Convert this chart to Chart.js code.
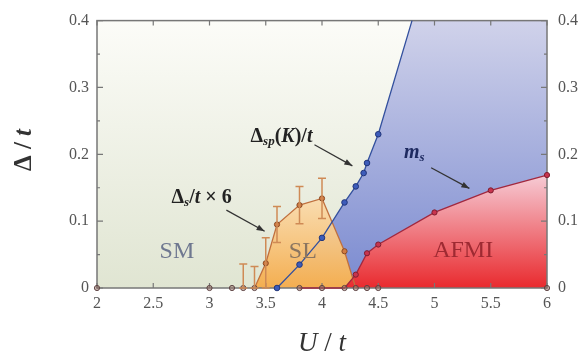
<!DOCTYPE html>
<html>
<head>
<meta charset="utf-8">
<script src="https://cdn.jsdelivr.net/npm/chart.js@4.4.0/dist/chart.umd.min.js"></script>
<style>
html,body{margin:0;padding:0;background:#fff}
#wrap{width:578px;height:355px}
</style>
</head>
<body>
<div id="wrap"><canvas id="c"></canvas></div>
<script>
// axis ticks
const xTicks = [2, 2.5, 3, 3.5, 4, 4.5, 5, 5.5, 6];
const yTicks = [0, 0.1, 0.2, 0.3, 0.4];
const yMinor = [0.05, 0.15, 0.25, 0.35];

// Delta_s / t x 6 (with error bars)
const dsU   = [2, 3, 3.2, 3.3, 3.4, 3.5, 3.6, 3.8, 4.0, 4.2, 4.3, 4.4, 4.5, 6];
const ds    = [0, 0, 0, 0, 0, 0.037, 0.095, 0.124, 0.134, 0.055, 0, 0, 0, 0];
const dsErr = [0, 0, 0, 0.036, 0.032, 0.038, 0.027, 0.028, 0.030, 0, 0, 0, 0, 0];

// Delta_sp(K) / t
const spU = [3.6, 3.8, 4.0, 4.2, 4.3, 4.37, 4.4, 4.5];
const sp  = [0, 0.035, 0.075, 0.128, 0.152, 0.172, 0.187, 0.23];
const spExitU = 4.8;   // where the line leaves the frame at the top
const spExit  = 0.4;

// m_s
const msU = [3.8, 4.0, 4.2, 4.3, 4.4, 4.5, 5, 5.5, 6];
const ms  = [0, 0, 0, 0.02, 0.052, 0.065, 0.113, 0.146, 0.169];

function pts(us, vs){ return us.map((u,i)=>({x:u, y:vs[i]})); }

function vgrad(chart, v0, v1, c0, c1){
  const a = chart.chartArea;
  if(!a) return c1;
  const y = chart.scales.y;
  const g = chart.ctx.createLinearGradient(0, y.getPixelForValue(v0), 0, y.getPixelForValue(v1));
  g.addColorStop(0, c0); g.addColorStop(1, c1);
  return g;
}

const SERIF = '"Liberation Serif", "DejaVu Serif", serif';

// draw a run of text parts, centred on x
function drawParts(ctx, parts, x, y){
  let w = 0;
  parts.forEach(p=>{ ctx.font = p.f; w += ctx.measureText(p.t).width; });
  let cx = x - w/2;
  parts.forEach(p=>{
    ctx.font = p.f;
    ctx.fillText(p.t, cx, y + (p.dy||0));
    cx += ctx.measureText(p.t).width;
  });
}

function arrow(ctx, x0, y0, x1, y1){
  ctx.save();
  ctx.strokeStyle = '#333'; ctx.fillStyle = '#333'; ctx.lineWidth = 1.2;
  ctx.beginPath(); ctx.moveTo(x0,y0); ctx.lineTo(x1,y1); ctx.stroke();
  const a = Math.atan2(y1-y0, x1-x0), L = 8, W = 3;
  ctx.beginPath();
  ctx.moveTo(x1, y1);
  ctx.lineTo(x1 - L*Math.cos(a) + W*Math.sin(a), y1 - L*Math.sin(a) - W*Math.cos(a));
  ctx.lineTo(x1 - L*Math.cos(a) - W*Math.sin(a), y1 - L*Math.sin(a) + W*Math.cos(a));
  ctx.closePath(); ctx.fill();
  ctx.restore();
}

// background of the SM phase
const bgPlugin = {
  id: 'bg',
  beforeDraw(chart){
    const {ctx, chartArea:a} = chart;
    const g = ctx.createLinearGradient(0, a.top, 0, a.bottom);
    g.addColorStop(0, 'rgb(252,252,248)');
    g.addColorStop(1, 'rgb(224,229,210)');
    ctx.save(); ctx.fillStyle = g;
    ctx.fillRect(a.left, a.top, a.right-a.left, a.bottom-a.top);
    ctx.restore();
  }
};

// frame and inward ticks
const framePlugin = {
  id: 'frame',
  beforeDatasetsDraw(chart){
    const {ctx, chartArea:a, scales} = chart;
    ctx.save();
    ctx.strokeStyle = '#777'; ctx.lineWidth = 1.5;
    ctx.strokeRect(a.left, a.top, a.right-a.left, a.bottom-a.top);
    ctx.lineWidth = 1.2;
    ctx.beginPath();
    xTicks.forEach(v=>{
      const px = scales.x.getPixelForValue(v);
      ctx.moveTo(px, a.bottom); ctx.lineTo(px, a.bottom-5);
      ctx.moveTo(px, a.top); ctx.lineTo(px, a.top+5);
    });
    yTicks.forEach(v=>{
      const py = scales.y.getPixelForValue(v);
      ctx.moveTo(a.left, py); ctx.lineTo(a.left+6, py);
      ctx.moveTo(a.right, py); ctx.lineTo(a.right-6, py);
    });
    yMinor.forEach(v=>{
      const py = scales.y.getPixelForValue(v);
      ctx.moveTo(a.left, py); ctx.lineTo(a.left+3, py);
      ctx.moveTo(a.right, py); ctx.lineTo(a.right-3, py);
    });
    ctx.stroke();
    ctx.restore();
  }
};

// error bars, titles, labels
const notePlugin = {
  id: 'notes',
  afterDatasetsDraw(chart){
    const {ctx, scales} = chart;
    const X = v => scales.x.getPixelForValue(v), Y = v => scales.y.getPixelForValue(v);
    ctx.save();
    // error bars
    ctx.strokeStyle = '#cf8a55'; ctx.lineWidth = 1.5;
    ctx.beginPath();
    dsU.forEach((u,i)=>{
      if(!dsErr[i]) return;
      const px = X(u), t = Y(ds[i]+dsErr[i]), b = Y(Math.max(0, ds[i]-dsErr[i]));
      ctx.moveTo(px, t); ctx.lineTo(px, b);
      ctx.moveTo(px-4, t); ctx.lineTo(px+4, t);
      ctx.moveTo(px-4, b); ctx.lineTo(px+4, b);
    });
    ctx.stroke();

    ctx.textBaseline = 'middle';
    // phase names
    ctx.font = '24px ' + SERIF;
    ctx.textAlign = 'center';
    ctx.fillStyle = '#6f7890'; ctx.fillText('SM', X(2.71), Y(0.054));
    ctx.fillStyle = '#8a7560'; ctx.fillText('SL', X(3.83), Y(0.054));
    ctx.fillStyle = '#9e2a32'; ctx.fillText('AFMI', X(5.255), Y(0.056));

    // curve labels
    ctx.textAlign = 'left';
    ctx.fillStyle = '#222';
    const big = 'bold 20px ' + SERIF, it = 'italic bold 20px ' + SERIF, sub = 'italic bold 13px ' + SERIF;
    drawParts(ctx, [{t:'Δ',f:big},{t:'s',f:sub,dy:5},{t:'/',f:big},{t:'t',f:it},{t:' × 6',f:big}], X(2.93), Y(0.135));
    drawParts(ctx, [{t:'Δ',f:big},{t:'sp',f:sub,dy:5},{t:'(',f:big},{t:'K',f:it},{t:')/',f:big},{t:'t',f:it}], X(3.64), Y(0.226));
    ctx.fillStyle = '#1e2a60';
    drawParts(ctx, [{t:'m',f:'italic bold 20px ' + SERIF},{t:'s',f:sub,dy:5}], X(4.82), Y(0.202));

    arrow(ctx, X(3.15), Y(0.1165), X(3.49), Y(0.085));
    arrow(ctx, X(3.933), Y(0.2144), X(4.27), Y(0.1827));
    arrow(ctx, X(4.97), Y(0.180), X(5.31), Y(0.149));

    // axis titles
    ctx.fillStyle = '#333';
    ctx.textAlign = 'left';
    drawParts(ctx, [{t:'U',f:'italic 27px ' + SERIF},{t:' / ',f:'27px ' + SERIF},{t:'t',f:'italic 27px ' + SERIF}], X(4.0), 344);
    ctx.translate(25, 150);
    ctx.rotate(-Math.PI/2);
    drawParts(ctx, [{t:'Δ',f:'bold 25px ' + SERIF},{t:' / ',f:'bold 25px ' + SERIF},{t:'t',f:'italic bold 25px ' + SERIF}], 0, 0);
    ctx.restore();
  }
};

const tickFont = {family: SERIF, size: 16};

new Chart(document.getElementById('c'), {
  type: 'scatter',
  data: {
    datasets: [
      { // Delta_s line
        label: 'Δs/t×6',
        data: pts(dsU, ds),
        showLine: true,
        borderColor: '#c0703e',
        borderWidth: 1.3,
        segment: { borderColor: c => (c.p0.parsed.y === 0 && c.p1.parsed.y === 0) ? 'rgba(0,0,0,0)' : '#c0703e' },
        backgroundColor: c => vgrad(c.chart, 0.16, 0, 'rgba(252,228,190,0.9)', 'rgb(244,174,80)'),
        fill: 'start',
        pointRadius: 2.6,
        pointBackgroundColor: dsU.map((u,i)=> ds[i] === 0 ? 'rgba(150,110,100,0.5)' : '#d27a40'),
        pointBorderColor: dsU.map((u,i)=> ds[i] === 0 ? '#5e4444' : '#8a4a25'),
        pointBorderWidth: 1,
        clip: false,
        order: 9
      },
      { // Delta_sp line
        label: 'Δsp(K)/t',
        data: pts(spU, sp).concat([{x: spExitU, y: spExit}]),
        showLine: true,
        borderColor: '#33509e',
        borderWidth: 1.3,
        fill: false,
        pointRadius: spU.map(()=>2.8).concat([0]),
        pointBackgroundColor: '#3d5cba',
        pointBorderColor: '#22367a',
        pointBorderWidth: 1,
        clip: false,
        order: 2
      },
      { // AFMI boundary m_s
        label: 'm_s',
        data: pts(msU, ms),
        showLine: true,
        borderColor: '#a2283e',
        borderWidth: 1.3,
        backgroundColor: c => vgrad(c.chart, 0.17, 0, 'rgb(246,204,214)', 'rgb(233,42,46)'),
        fill: 'start',
        pointRadius: 2.6,
        pointBackgroundColor: msU.map((u,i)=> ms[i] === 0 ? 'rgba(150,110,100,0.5)' : '#c8344e'),
        pointBorderColor: msU.map((u,i)=> ms[i] === 0 ? '#5e4444' : '#7e1e30'),
        pointBorderWidth: 1,
        clip: false,
        order: 8
      },
      { // blue region right of Delta_sp
        label: 'blue',
        data: pts(spU, sp).concat([{x: spExitU, y: spExit}, {x: 6, y: 0.4}]),
        showLine: true,
        borderWidth: 0,
        borderColor: 'rgba(0,0,0,0)',
        backgroundColor: c => vgrad(c.chart, 0.4, 0, 'rgb(208,210,234)', 'rgb(122,138,208)'),
        fill: 'start',
        pointRadius: 0,
        clip: false,
        order: 10
      }
    ]
  },
  options: {
    responsive: true,
    maintainAspectRatio: false,
    animation: false,
    devicePixelRatio: 1,
    layout: { padding: { top: 15, left: 0, right: 0, bottom: 0 } },
    plugins: {
      legend: { display: false },
      tooltip: { enabled: false },
      filler: { drawTime: 'beforeDatasetsDraw' }
    },
    scales: {
      x: {
        type: 'linear', position: 'bottom', min: 2, max: 6,
        grid: { display: false, drawTicks: false },
        border: { display: false },
        ticks: { stepSize: 0.5, font: tickFont, color: '#555', padding: 6, maxRotation: 0, autoSkip: false,
                 callback: v => String(+v.toFixed(1)) },
        afterFit: s => { s.height = 67; }
      },
      y: {
        type: 'linear', position: 'left', min: 0, max: 0.4,
        grid: { display: false, drawTicks: false },
        border: { display: false },
        ticks: { stepSize: 0.1, font: tickFont, color: '#555', padding: 8,
                 callback: v => String(+v.toFixed(1)) },
        afterFit: s => { s.width = 97; }
      },
      y2: {
        type: 'linear', position: 'right', min: 0, max: 0.4,
        grid: { display: false, drawTicks: false },
        border: { display: false },
        ticks: { stepSize: 0.1, font: tickFont, color: '#555', padding: 11,
                 callback: v => String(+v.toFixed(1)) },
        afterFit: s => { s.width = 31; }
      }
    }
  },
  plugins: [bgPlugin, framePlugin, notePlugin]
});
</script>
</body>
</html>
